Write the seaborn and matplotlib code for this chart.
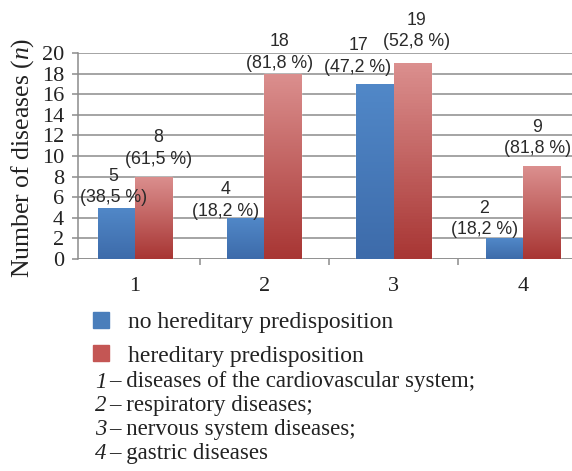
import numpy as np
import pandas as pd
import matplotlib
matplotlib.use("Agg")
import matplotlib.pyplot as plt
import seaborn as sns
from matplotlib.colors import to_rgb

# data
categories = ["1", "2", "3", "4"]
no_hered = [5, 4, 17, 2]
hered = [8, 18, 19, 9]
no_hered_pct = ["38,5", "18,2", "47,2", "18,2"]
hered_pct = ["61,5", "81,8", "52,8", "81,8"]
groups = ["no hereditary predisposition", "hereditary predisposition"]
footnotes = ["diseases of the cardiovascular system;",
             "respiratory diseases;",
             "nervous system diseases;",
             "gastric diseases"]

df = pd.DataFrame({
    "cat": categories * 2,
    "n": no_hered + hered,
    "group": [groups[0]] * 4 + [groups[1]] * 4,
})

sns.set_theme(style="white")
plt.rcParams["font.family"] = ["Liberation Serif", "DejaVu Serif"]
plt.rcParams["mathtext.fontset"] = "custom"
plt.rcParams["mathtext.rm"] = "Liberation Serif"
plt.rcParams["mathtext.it"] = "Liberation Serif:italic"

blue, red = "#4a7ebb", "#c45654"
grads = {0: ("#5188c8", "#3d6baa"), 1: ("#db8f8e", "#a83634")}
txtc = "#222222"

fig = plt.figure(figsize=(5.72, 4.71), dpi=100)
ax = fig.add_axes([78 / 572, 1 - 259 / 471, 494 / 572, 206 / 471])

sns.barplot(data=df, x="cat", y="n", hue="group", palette=[blue, red],
            width=0.575, gap=0, ax=ax, legend=False, zorder=3)

# gradient fill clipped to each bar
for gi, cont in enumerate(ax.containers):
    top, bot = grads[gi]
    grad = np.linspace(to_rgb(top), to_rgb(bot), 64).reshape(64, 1, 3)
    for p in cont:
        x, w, h = p.get_x(), p.get_width(), p.get_height()
        im = ax.imshow(grad, extent=[x, x + w, 0, h], aspect="auto", zorder=4)
        im.set_clip_path(p)

ax.set_xlim(-0.441, 3.38)
ax.set_ylim(0, 20)
ax.set_yticks(range(0, 21, 2))
ax.yaxis.grid(True, color="#8c8c8c", linewidth=1.1)
ax.set_axisbelow(True)
for s in ["top", "right", "bottom"]:
    ax.spines[s].set_visible(False)
ax.spines["left"].set_color("#8c8c8c")
ax.spines["left"].set_linewidth(1.1)
ax.axhline(0, color="#8c8c8c", linewidth=1.1, zorder=2)

ax.tick_params(axis="y", which="major", left=True, length=4, width=1.1,
               color="#8c8c8c", pad=6, labelsize=16, labelcolor=txtc)
ax.tick_params(axis="x", which="major", bottom=False, pad=7, labelsize=16,
               labelcolor=txtc)
ax.set_xticks([0.5, 1.5, 2.5], minor=True)
ax.tick_params(axis="x", which="minor", bottom=True, length=4, width=1.1,
               color="#8c8c8c")
ax.set_xlabel("")
ax.set_ylabel("Number of diseases ($n$)", fontsize=18.5, color=txtc)
ax.yaxis.set_label_coords(-0.086, 0.49)

# value labels
blue_off = [(-3, 1), (-20, -2), (-17, 8), (-20, 0)]
red_off = [(5, 9), (-3, 2), (4, 13), (-4, 9)]
label_sets = [(no_hered, no_hered_pct, blue_off), (hered, hered_pct, red_off)]
for cont, (vals, pcts, offs) in zip(ax.containers, label_sets):
    for p, v, pc, (dx, dy) in zip(cont, vals, pcts, offs):
        ax.annotate(f"{v}\n({pc} %)", (p.get_x() + p.get_width() / 2, v),
                    xytext=(dx, dy), textcoords="offset pixels",
                    ha="center", va="bottom", fontsize=12.8, linespacing=1.35,
                    family=["Liberation Sans", "DejaVu Sans"], color="#2a2a2a",
                    zorder=6)

# legend below chart
handles = [plt.Rectangle((0, 0), 1, 1, color=blue),
           plt.Rectangle((0, 0), 1, 1, color=red)]
fig.legend(handles, groups, loc="upper left",
           bbox_to_anchor=(93 / 572, 1 - 312 / 471), frameon=False,
           fontsize=17, handlelength=0.68, handleheight=0.68,
           handletextpad=0.8, labelspacing=0.5, borderpad=0,
           borderaxespad=0, labelcolor=txtc)

for i, (num, txt) in enumerate(zip(categories, footnotes)):
    yy = 1 - (382 + i * 23.7) / 471
    fig.text(95 / 572, yy, num, fontsize=16.5, style="italic",
             va="center", ha="left", color=txtc)
    fig.text(109 / 572, yy, f"– {txt}", fontsize=16.5,
             va="center", ha="left", color=txtc)

fig.savefig("out.png", dpi=100)
